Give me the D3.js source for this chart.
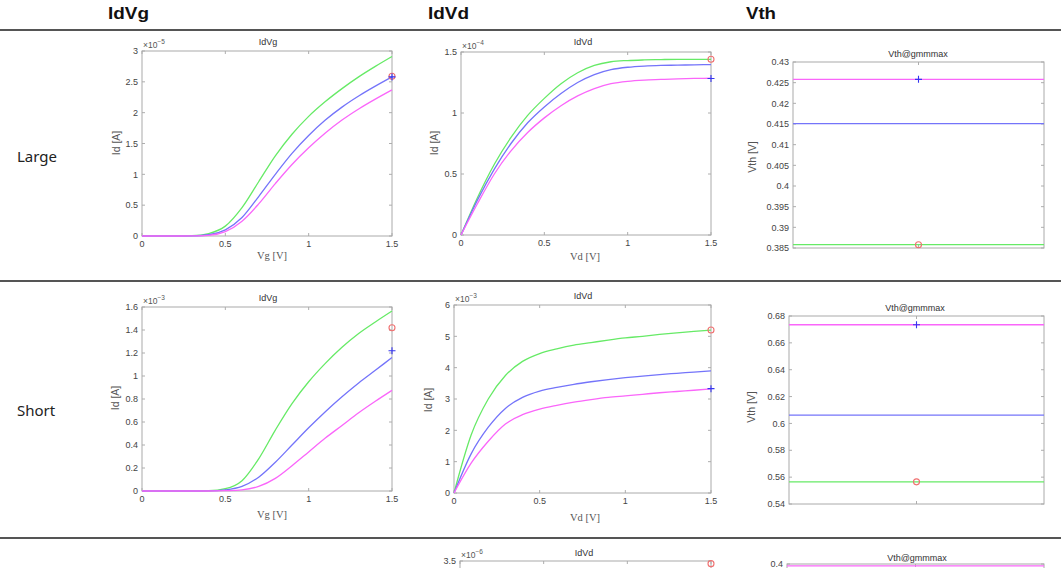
<!DOCTYPE html>
<html><head><meta charset="utf-8">
<script src="https://cdn.jsdelivr.net/npm/d3@7"></script>
<style>
body{margin:0;background:#fff;}
svg{display:block;}
</style></head>
<body>
<svg id="c" width="1061" height="568"></svg>
<script>
// ---------- data ----------
const headers = ["IdVg", "IdVd", "Vth"];
const rowLabels = ["Large", "Short"];
const vSweep = [0,0.1,0.2,0.3,0.4,0.5,0.6,0.7,0.8,0.9,1.0,1.1,1.2,1.3,1.4,1.5];

// Large IdVg (x1e-5 A)
const largeIdVgGreen   = [0,0,0,0.005,0.04,0.16,0.46,0.88,1.3,1.65,1.94,2.18,2.39,2.58,2.75,2.91];
const largeIdVgBlue    = [0,0,0,0.003,0.02,0.1,0.3,0.64,1.0,1.34,1.63,1.88,2.09,2.27,2.43,2.58];
const largeIdVgMagenta = [0,0,0,0.002,0.01,0.07,0.24,0.52,0.85,1.16,1.43,1.67,1.88,2.06,2.22,2.37];
const largeIdVgMarkers = [{v:1.5, y:2.59, kind:"o"}, {v:1.5, y:2.58, kind:"+"}];

// Large IdVd (x1e-4 A)
const largeIdVdGreen   = [0,0.31,0.58,0.8,0.98,1.12,1.24,1.33,1.39,1.42,1.43,1.435,1.438,1.44,1.44,1.44];
const largeIdVdBlue    = [0,0.29,0.54,0.75,0.92,1.05,1.16,1.25,1.315,1.355,1.375,1.385,1.39,1.392,1.395,1.396];
const largeIdVdMagenta = [0,0.26,0.5,0.69,0.84,0.96,1.06,1.14,1.2,1.24,1.26,1.27,1.275,1.28,1.283,1.285];
const largeIdVdMarkers = [{v:1.5, y:1.44, kind:"o"}, {v:1.5, y:1.283, kind:"+"}];

// Large Vth (V)
const largeVth = {magenta:0.4258, blue:0.4151, green:0.3858};
const largeVthMarkers = [{y:0.4258, kind:"+"}, {y:0.3858, kind:"o"}];

// Short IdVg (x1e-3 A)
const shortIdVgGreen   = [0,0,0,0,0.002,0.02,0.09,0.28,0.53,0.76,0.95,1.11,1.25,1.37,1.47,1.565];
const shortIdVgBlue    = [0,0,0,0,0.001,0.01,0.04,0.12,0.25,0.4,0.55,0.69,0.82,0.94,1.05,1.16];
const shortIdVgMagenta = [0,0,0,0,0,0.003,0.01,0.04,0.11,0.22,0.34,0.46,0.57,0.68,0.78,0.875];
const shortIdVgMarkers = [{v:1.5, y:1.42, kind:"o"}, {v:1.5, y:1.22, kind:"+"}];

// Short IdVd (x1e-3 A)
const shortIdVdGreen   = [0,1.85,3.0,3.75,4.2,4.45,4.6,4.72,4.8,4.88,4.95,5.0,5.06,5.11,5.16,5.2];
const shortIdVdBlue    = [0,1.25,2.1,2.7,3.05,3.25,3.37,3.47,3.55,3.62,3.68,3.73,3.78,3.82,3.86,3.9];
const shortIdVdMagenta = [0,0.95,1.65,2.2,2.5,2.68,2.8,2.9,2.98,3.05,3.1,3.15,3.2,3.24,3.28,3.32];
const shortIdVdMarkers = [{v:1.5, y:5.2, kind:"o"}, {v:1.5, y:3.33, kind:"+"}];

// Short Vth (V)
const shortVth = {magenta:0.6735, blue:0.6062, green:0.5565};
const shortVthMarkers = [{y:0.6735, kind:"+"}, {y:0.5565, kind:"o"}];

// Third row (only top visible)
const thirdIdVdMarkers = [{v:1.5, y:3.45, kind:"o"}];
const thirdVth = {magenta:0.3998};

const C = {green:"#66ea66", blue:"#7474fa", magenta:"#fa66fa", red:"#f07070", plus:"#3535f0"};

// ---------- drawing ----------
const svg = d3.select("#c");
const FONT = "'Liberation Sans', Arial, sans-serif";

// header
const hx = [108, 428, 746];
headers.forEach((h,i)=>{
  svg.append("text").attr("x",hx[i]).attr("y",19).text(h)
    .attr("font-family","'Liberation Sans', Arial, sans-serif").attr("font-weight","bold")
    .attr("font-size",16).attr("fill","#111").attr("textLength", h==="Vth"?30:41).attr("lengthAdjust","spacingAndGlyphs");
});
[30, 281, 538].forEach(y=>{
  svg.append("line").attr("x1",0).attr("x2",1061).attr("y1",y).attr("y2",y)
    .attr("stroke","#555").attr("stroke-width",2);
});
const rowY = [157, 411];
rowLabels.forEach((r,i)=>{
  svg.append("text").attr("x",17).attr("y",rowY[i]+5).text(r)
    .attr("font-family","'Noto Sans', sans-serif").attr("font-size",15).attr("fill","#222");
});

function marker(g, x, y, kind){
  if(kind==="o"){
    g.append("circle").attr("cx",x).attr("cy",y).attr("r",3).attr("fill","none")
      .attr("stroke",C.red).attr("stroke-width",1.1);
  } else {
    g.append("path").attr("d",`M${x-3.5},${y}H${x+3.5}M${x},${y-3.5}V${y+3.5}`)
      .attr("stroke",C.plus).attr("stroke-width",1.1);
  }
}

function frame(g, x, y, opts){
  const [x0,x1] = x.range(), [yb,yt] = y.range();
  const gr = "#999";
  opts.xticks.forEach(t=>{
    const px = x(t);
    g.append("line").attr("x1",px).attr("x2",px).attr("y1",yb).attr("y2",yb-3).attr("stroke",gr).attr("stroke-width",0.8);
    g.append("line").attr("x1",px).attr("x2",px).attr("y1",yt).attr("y2",yt+3).attr("stroke",gr).attr("stroke-width",0.8);
    if(opts.xlabels) g.append("text").attr("x",px).attr("y",yb+11).attr("text-anchor","middle")
      .text(d3.format("~g")(t)).attr("font-family",FONT).attr("font-size",9).attr("fill","#444");
  });
  opts.yticks.forEach(t=>{
    const py = y(t);
    g.append("line").attr("x1",x0).attr("x2",x0+3).attr("y1",py).attr("y2",py).attr("stroke",gr).attr("stroke-width",0.8);
    g.append("line").attr("x1",x1).attr("x2",x1-3).attr("y1",py).attr("y2",py).attr("stroke",gr).attr("stroke-width",0.8);
    g.append("text").attr("x",x0-4).attr("y",py+3.2).attr("text-anchor","end")
      .text(d3.format("~g")(+t.toFixed(4))).attr("font-family",FONT).attr("font-size",9).attr("fill","#444");
  });
  g.append("rect").attr("x",x0).attr("y",yt).attr("width",x1-x0).attr("height",yb-yt)
    .attr("fill","none").attr("stroke","#aaa").attr("stroke-width",1);
  if(opts.title) g.append("text").attr("x",opts.title[1]).attr("y",opts.title[2]).attr("text-anchor","middle")
    .text(opts.title[0]).attr("font-family",FONT).attr("font-size",9).attr("fill","#333");
  if(opts.exp!==undefined){
    const t = g.append("text").attr("x",x0+1).attr("y",yt-3).attr("font-family",FONT).attr("font-size",8.5).attr("fill","#555");
    t.append("tspan").text("×10");
    t.append("tspan").attr("dy",-4).attr("font-size",6.5).text(String(opts.exp).replace("-","−"));
  }
  if(opts.ylab) g.append("text").attr("transform",`translate(${opts.ylab[1]},${opts.ylab[2]}) rotate(-90)`)
    .attr("text-anchor","middle").text(opts.ylab[0]).attr("font-family",FONT).attr("font-size",10.5).attr("fill","#555");
  if(opts.xlab) g.append("text").attr("x",opts.xlab[1]).attr("y",opts.xlab[2]).attr("text-anchor","middle")
    .text(opts.xlab[0]).attr("font-family","'Liberation Serif', serif").attr("font-size",10.5).attr("fill","#555");
}

function curvePanel(cfg){
  const g = svg.append("g");
  const x = d3.scaleLinear().domain([0,1.5]).range(cfg.xr);
  const y = d3.scaleLinear().domain(cfg.yd).range(cfg.yr);
  const line = d3.line().x((d,i)=>x(vSweep[i])).y(d=>y(d)).curve(d3.curveMonotoneX);
  frame(g, x, y, {xticks:[0,0.5,1,1.5], xlabels:true, yticks:cfg.yticks, title:cfg.title,
                  exp:cfg.exp, ylab:cfg.ylab, xlab:cfg.xlab});
  [["green",cfg.green],["blue",cfg.blue],["magenta",cfg.magenta]].forEach(([c,arr])=>{
    g.append("path").datum(arr).attr("d",line).attr("fill","none").attr("stroke",C[c]).attr("stroke-width",1.3);
  });
  cfg.markers.forEach(m=>marker(g, x(m.v), y(m.y), m.kind));
}

function vthPanel(cfg){
  const g = svg.append("g");
  const x = d3.scaleLinear().domain([0,2]).range(cfg.xr);
  const y = d3.scaleLinear().domain(cfg.yd).range(cfg.yr);
  frame(g, x, y, {xticks:[1], xlabels:false, yticks:cfg.yticks, title:cfg.title, ylab:cfg.ylab});
  Object.entries(cfg.vals).forEach(([c,v])=>{
    g.append("line").attr("x1",x(0)).attr("x2",x(2)).attr("y1",y(v)).attr("y2",y(v))
      .attr("stroke",C[c]).attr("stroke-width",1.3);
  });
  cfg.markers.forEach(m=>marker(g, x(1), y(m.y), m.kind));
}

const rng = (a,b,s)=>d3.range(0, Math.round((b-a)/s)+1).map(i=>+(a+i*s).toFixed(4));

curvePanel({xr:[142,392], yd:[0,3], yr:[236,51], yticks:rng(0,3,0.5), title:["IdVg",268,45], exp:-5,
  ylab:["Id [A]",120,143], xlab:["Vg [V]",272,259], green:largeIdVgGreen, blue:largeIdVgBlue, magenta:largeIdVgMagenta, markers:largeIdVgMarkers});
curvePanel({xr:[461,711], yd:[0,1.5], yr:[235,52], yticks:rng(0,1.5,0.5), title:["IdVd",583,45], exp:-4,
  ylab:["Id [A]",438,143], xlab:["Vd [V]",585,260], green:largeIdVdGreen, blue:largeIdVdBlue, magenta:largeIdVdMagenta, markers:largeIdVdMarkers});
vthPanel({xr:[793,1044], yd:[0.385,0.43], yr:[248,62], yticks:rng(0.385,0.43,0.005), title:["Vth@gmmmax",918,57],
  ylab:["Vth [V]",756,157], vals:largeVth, markers:largeVthMarkers});

curvePanel({xr:[142,392], yd:[0,1.6], yr:[491,307], yticks:rng(0,1.6,0.2), title:["IdVg",268,301], exp:-3,
  ylab:["Id [A]",119,398], xlab:["Vg [V]",272,518], green:shortIdVgGreen, blue:shortIdVgBlue, magenta:shortIdVgMagenta, markers:shortIdVgMarkers});
curvePanel({xr:[454,711], yd:[0,6], yr:[493,305], yticks:rng(0,6,1), title:["IdVd",583,299], exp:-3,
  ylab:["Id [A]",432,400], xlab:["Vd [V]",585,521], green:shortIdVdGreen, blue:shortIdVdBlue, magenta:shortIdVdMagenta, markers:shortIdVdMarkers});
vthPanel({xr:[789,1044], yd:[0.54,0.68], yr:[504,316], yticks:rng(0.54,0.68,0.02), title:["Vth@gmmmax",915,311],
  ylab:["Vth [V]",755,407], vals:shortVth, markers:shortVthMarkers});

// third row (clipped by the window)
(function(){
  const g = svg.append("g");
  const x = d3.scaleLinear().domain([0,1.5]).range([460,711]);
  const y = d3.scaleLinear().domain([0,3.5]).range([745,561]);
  frame(g, x, y, {xticks:[0,0.5,1,1.5], xlabels:false, yticks:[3.5], title:["IdVd",584,556], exp:-6});
  thirdIdVdMarkers.forEach(m=>marker(g, x(m.v), y(m.y), m.kind));
  const g2 = svg.append("g");
  const x2 = d3.scaleLinear().domain([0,2]).range([787,1044]);
  const y2 = d3.scaleLinear().domain([0.38,0.4]).range([760,564]);
  frame(g2, x2, y2, {xticks:[1], xlabels:false, yticks:[0.4], title:["Vth@gmmmax",917,561]});
  g2.append("line").attr("x1",x2(0)).attr("x2",x2(2)).attr("y1",y2(thirdVth.magenta)).attr("y2",y2(thirdVth.magenta))
    .attr("stroke",C.magenta).attr("stroke-width",1.2);
})();
</script>
</body></html>
